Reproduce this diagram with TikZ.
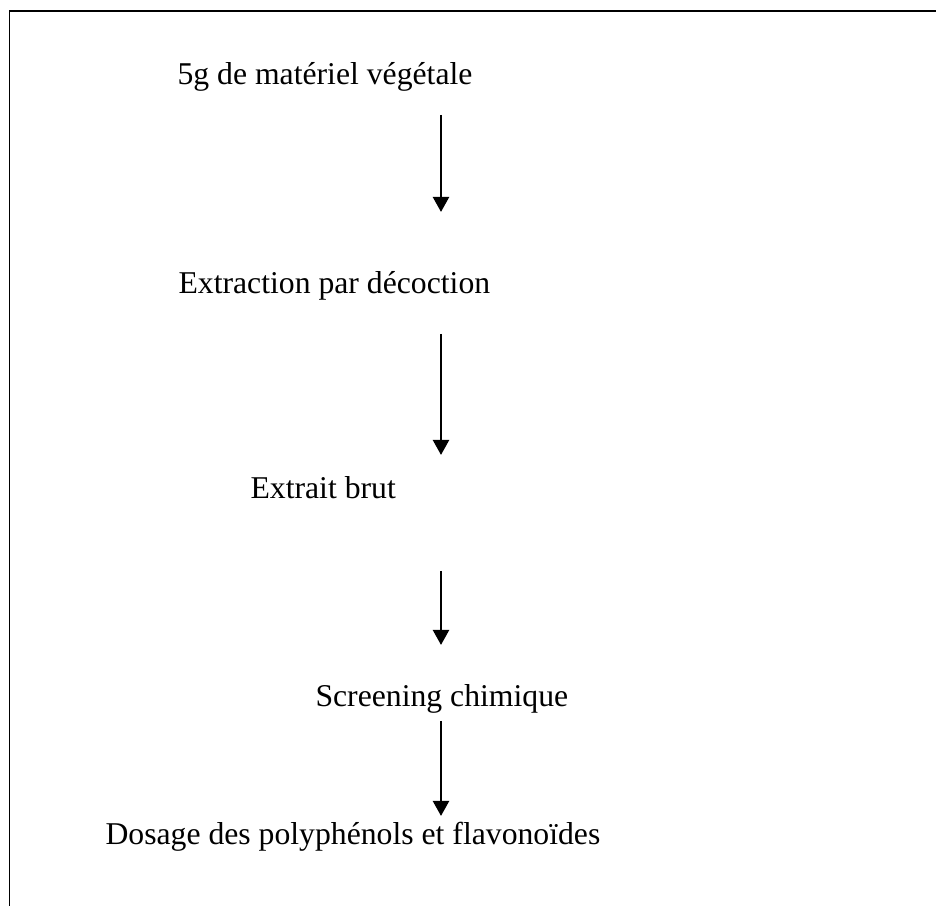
\documentclass[tikz,border=0pt]{standalone}
\usepackage{fontspec}
\setmainfont{Liberation Serif}
\usetikzlibrary{arrows.meta}
\begin{document}
\begin{tikzpicture}[x=0.3785pt,y=-0.3785pt,
  lbl/.style={anchor=base west,inner sep=0pt,font=\fontsize{12}{14}\selectfont},
  flow/.style={line width=1.1pt,-{Triangle[width=6pt,length=5.7pt]}}]
\useasboundingbox (0,0) rectangle (936,906);
\draw[line width=0.6pt] (9.5,1000) -- (9.5,11) -- (1000,11);
\node[lbl] (t1) at (177,85) {5g de matériel végétale};
\node[lbl] (t2) at (178,294) {Extraction par décoction};
\node[lbl] (t3) at (250,499) {Extrait brut};
\node[lbl] (t4) at (315,707) {Screening chimique};
\node[lbl] (t5) at (105,845) {Dosage des polyphénols et flavonoïdes};
\coordinate (a1s) at (441,115); \coordinate (a1e) at (441,212);
\coordinate (a2s) at (441,334); \coordinate (a2e) at (441,455);
\coordinate (a3s) at (441,571); \coordinate (a3e) at (441,645);
\coordinate (a4s) at (441,721); \coordinate (a4e) at (441,816);
\draw[flow] (a1s) -- (a1e);
\draw[flow] (a2s) -- (a2e);
\draw[flow] (a3s) -- (a3e);
\draw[flow] (a4s) -- (a4e);
\end{tikzpicture}
\end{document}
